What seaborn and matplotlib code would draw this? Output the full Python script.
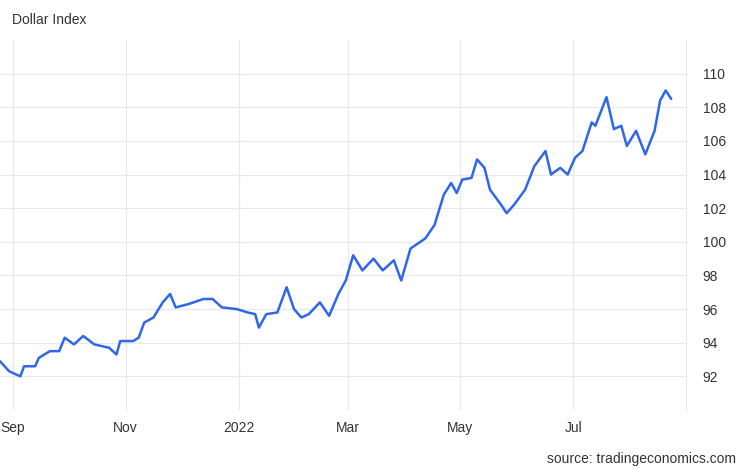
import matplotlib
matplotlib.use('Agg')
import matplotlib.pyplot as plt
import seaborn as sns
import pandas as pd

# days since 2021-08-25 and index level
day_offsets = [0, 5, 11, 13, 19, 21, 27, 32, 35, 40, 45, 51, 59, 63, 65, 72, 75, 78, 83, 88, 92, 95, 102, 110, 115, 120, 128, 134, 138, 140,
               144, 150, 155, 159, 163, 167, 173, 178, 183, 187, 191, 196, 202, 207, 210, 213, 217, 222, 226, 230, 235, 240, 244, 247, 250,
               255, 258, 262, 265, 271, 274, 278, 284, 289, 295, 298, 303, 307, 311, 315, 320, 322, 328, 332, 336, 339, 344, 349, 354, 357,
               360, 363]
values = [92.9, 92.3, 92.0, 92.6, 92.6, 93.1, 93.5, 93.5, 94.3, 93.9, 94.4, 93.9, 93.7, 93.3, 94.1, 94.1, 94.3, 95.2, 95.5, 96.4,
          96.9, 96.1, 96.3, 96.6, 96.6, 96.1, 96.0, 95.8, 95.7, 94.9, 95.7, 95.8, 97.3, 96.0, 95.5, 95.7, 96.4, 95.6, 96.9, 97.7,
          99.2, 98.3, 99.0, 98.3, 98.6, 98.9, 97.7, 99.6, 99.9, 100.2, 101.0, 102.8, 103.5, 102.9, 103.7, 103.8, 104.9, 104.4, 103.1, 102.2,
          101.7, 102.2, 103.1, 104.5, 105.4, 104.0, 104.4, 104.0, 105.0, 105.4, 107.1, 106.9, 108.6, 106.7, 106.9, 105.7, 106.6, 105.2, 106.6, 108.4,
          109.0, 108.5]
tick_dates = ['2021-09-01', '2021-11-01', '2022-01-01', '2022-03-01', '2022-05-01', '2022-07-01']
tick_labels = ['Sep', 'Nov', '2022', 'Mar', 'May', 'Jul']
y_ticks = [92, 94, 96, 98, 100, 102, 104, 106, 108, 110]

df = pd.DataFrame({'date': pd.Timestamp('2021-08-25') + pd.to_timedelta(day_offsets, unit='D'), 'value': values})

sns.set_theme(style="white")
plt.rcParams['font.family'] = ['Liberation Sans', 'DejaVu Sans']
fig = plt.figure(figsize=(7.46, 4.68), dpi=100)
ax = fig.add_axes([0, 58 / 468, 686 / 746, 370 / 468])

sns.lineplot(data=df, x='date', y='value', ax=ax, color='#2f66ec', linewidth=1.8)

ax.set_xlim(pd.Timestamp('2021-08-25'), pd.Timestamp('2022-08-31'))
ax.set_ylim(90, 112)
ax.set_xticks(pd.to_datetime(tick_dates))
ax.set_xticklabels(tick_labels)
ax.yaxis.tick_right()
ax.set_yticks(y_ticks)
ax.tick_params(axis='both', length=0, labelsize=10, colors='#333333')
ax.tick_params(axis='y', pad=12)
ax.tick_params(axis='x', pad=8)
ax.grid(True, color='#e8e8e8', linewidth=0.8)
ax.set_xlabel('')
ax.set_ylabel('')
for side in ['top', 'left', 'bottom']:
    ax.spines[side].set_visible(False)
ax.spines['right'].set_color('#e8e8e8')
ax.spines['right'].set_linewidth(0.8)

fig.text(12 / 746, 1 - 20 / 468, 'Dollar Index', fontsize=10, color='#333333', va='center')
fig.text(736 / 746, 1 - 459 / 468, 'source: tradingeconomics.com', fontsize=10, color='#333333', ha='right', va='center')

fig.savefig('out.png', dpi=100)
